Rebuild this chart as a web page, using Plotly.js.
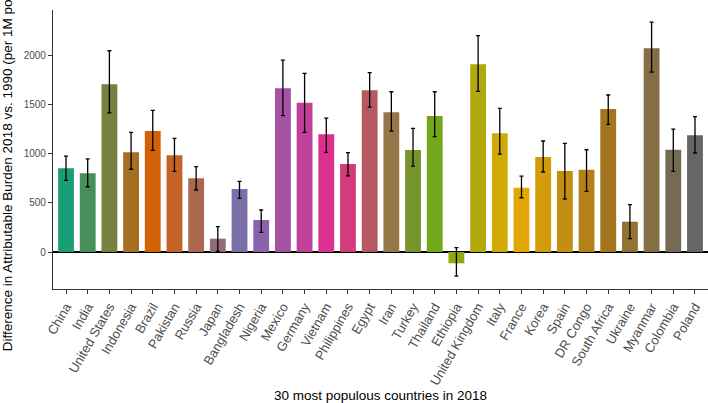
<!DOCTYPE html>
<html>
<head>
<meta charset="utf-8">
<script src="https://cdn.plot.ly/plotly-3.0.1.min.js"></script>
<style>html,body{margin:0;padding:0;background:#fff;}#chart{width:708px;height:403px;}</style>
</head>
<body>
<div id="chart"></div>
<script>
const countries = ["China","India","United States","Indonesia","Brazil","Pakistan","Russia","Japan","Bangladesh","Nigeria","Mexico","Germany","Vietnam","Philippines","Egypt","Iran","Turkey","Thailand","Ethiopia","United Kingdom","Italy","France","Korea","Spain","DR Congo","South Africa","Ukraine","Myanmar","Colombia","Poland"];
const diffValues = [853,802,1709,1016,1233,985,751,136,642,326,1668,1521,1199,897,1647,1423,1039,1386,-115,1912,1209,655,968,825,839,1457,309,2075,1042,1189];
const upperCI = [978,948,2051,1220,1444,1158,869,258,720,428,1956,1821,1365,1012,1827,1633,1260,1633,44,2204,1464,774,1131,1107,1042,1600,482,2343,1253,1379];
const lowerCI = [730,665,1419,843,1036,822,632,5,547,201,1389,1220,1016,777,1477,1233,876,1175,-245,1637,998,553,815,540,618,1301,136,1834,822,1009];
const yTicks = [0,500,1000,1500,2000];

// Dark2 palette ramp (style only)
const dark2 = ["#1B9E77","#D95F02","#7570B3","#E7298A","#66A61E","#E6AB02","#A6761D","#666666"];
function hex2rgb(h){return [1,3,5].map(i=>parseInt(h.substr(i,2),16));}
function ramp(pal,n){
  const rgb = pal.map(hex2rgb), out=[];
  for(let i=0;i<n;i++){
    const p = i*(pal.length-1)/(n-1);
    const k = Math.min(Math.floor(p), pal.length-2), t = p-k;
    const c = rgb[k].map((v,j)=>Math.round(v+(rgb[k+1][j]-v)*t));
    out.push('#'+c.map(v=>v.toString(16).padStart(2,'0')).join(''));
  }
  return out;
}
const colors = ramp(dark2, countries.length);

const trace = {
  type:'bar',
  x: countries,
  y: diffValues,
  width: 0.73,
  marker:{color:colors, line:{width:0}},
  error_y:{type:'data', symmetric:false,
    array: upperCI.map((u,i)=>u-diffValues[i]),
    arrayminus: diffValues.map((v,i)=>v-lowerCI[i]),
    color:'#000000', thickness:1.3, width:2},
  hoverinfo:'x+y'
};

const font = "'Liberation Sans', Arial, Helvetica, sans-serif";
const layout = {
  width:708, height:403,
  margin:{l:53, r:0, t:10, b:114, pad:0},
  paper_bgcolor:'#ffffff', plot_bgcolor:'#ffffff',
  showlegend:false,
  font:{family:font, color:'#000'},
  bargap:0.27,
  xaxis:{
    type:'category',
    range:[-0.6, countries.length-0.4],
    tickangle:-60,
    tickfont:{family:font, size:13, color:'#4D4D4D'},
    ticks:'outside', ticklen:4, tickcolor:'#333333', tickwidth:1,
    showline:true, linecolor:'#333333', linewidth:1.1,
    showgrid:false, zeroline:false,
    automargin:false,
    title:{text:'30 most populous countries in 2018', font:{family:font, size:13.5, color:'#000'}, standoff:10}
  },
  yaxis:{
    range:[-377, 2466],
    tickvals:yTicks,
    ticktext:yTicks.map(String),
    tickfont:{family:font, size:10, color:'#4D4D4D'},
    ticks:'outside', ticklen:4, tickcolor:'#333333', tickwidth:1,
    showline:true, linecolor:'#333333', linewidth:1.1,
    showgrid:false,
    zeroline:true, zerolinecolor:'#000000', zerolinewidth:1.1,
    automargin:false,
    title:{text:'Difference in Attributable Burden 2018 vs. 1990 (per 1M population)', font:{family:font, size:13.5, color:'#000'}, standoff:8}
  }
};

Plotly.newPlot('chart',[trace],layout,{displayModeBar:false, staticPlot:true});
</script>
</body>
</html>
